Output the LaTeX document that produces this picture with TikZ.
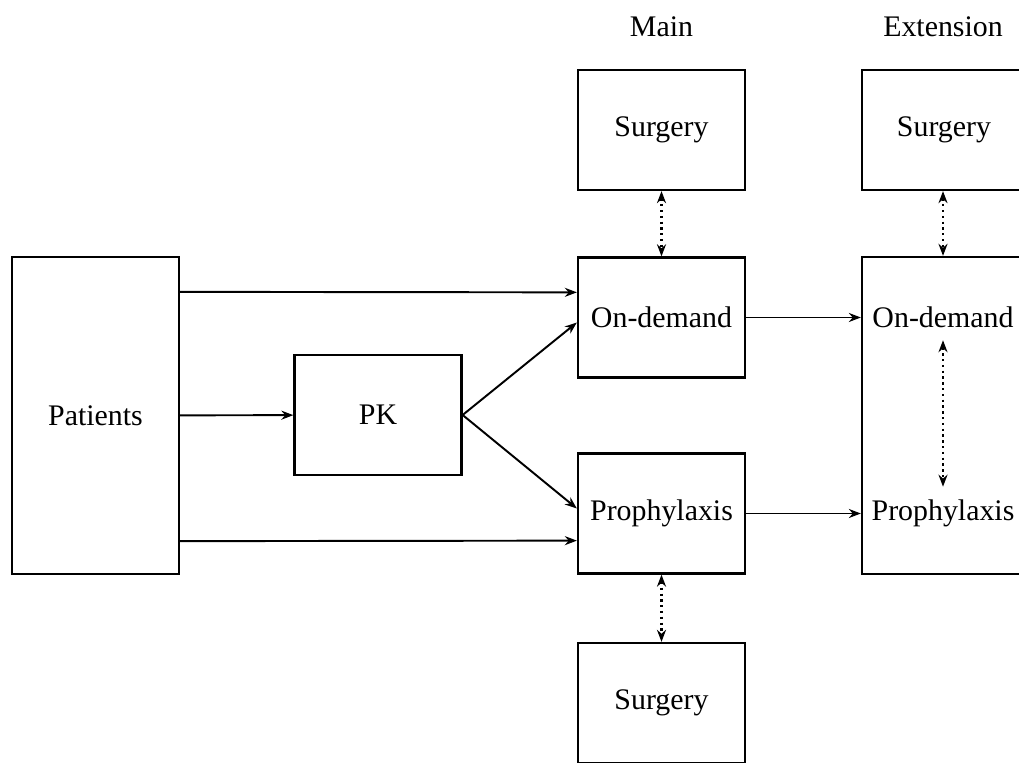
\documentclass[tikz,border=0pt]{standalone}
\usepackage{fontspec}
\setmainfont{Liberation Serif}
\usetikzlibrary{arrows.meta,positioning}

\begin{document}
\begin{tikzpicture}[every node/.style={font=\fontsize{17}{20}\selectfont},
  box/.style={draw,line width=1.3pt,minimum width=3.34cm,minimum height=2.4cm,inner sep=0pt},
  link/.style={-{Stealth[length=2.4mm,width=1.8mm]},line width=1.1pt},
  swap/.style={{Stealth[length=2.4mm,width=1.8mm]}-{Stealth[length=2.4mm,width=1.8mm]},dotted,line width=1.3pt}]
  % frame
  \useasboundingbox (0,0) rectangle (20.38,15.24);
  \clip (0,0) rectangle (20.38,15.24);
  % column heads
  \node (mainlbl) at (13.23,14.7) {Main};
  \node (extlbl) at (18.86,14.7) {Extension};
  % patients and PK
  \node[box,minimum height=6.34cm] (patients) at (1.91,6.93) {Patients};
  \node[box] (pk) at (7.56,6.94) {PK};
  % main study
  \node[box] (surgtop) at (13.23,12.64) {Surgery};
  \node[box] (ondemand) at (13.23,8.89) {On-demand};
  \node[box] (prophy) at (13.23,4.97) {Prophylaxis};
  \node[box] (surgbot) at (13.23,1.18) {Surgery};
  % extension
  \node[box,minimum width=3.28cm] (extsurg) at (18.88,12.64) {Surgery};
  \node[box,minimum width=3.28cm,minimum height=6.34cm] (extbox) at (18.88,6.93) {};
  \node (extod) at (18.86,8.9) {On-demand};
  \node (extpro) at (18.86,4.98) {Prophylaxis};
  % patient flow
  \draw[link] ([yshift=-0.72cm]patients.north east) -- ([yshift=-0.72cm]ondemand.north west);
  \draw[link] (patients) -- (pk);
  \draw[link] ([yshift=0.68cm]patients.south east) -- ([yshift=0.68cm]prophy.south west);
  \draw[link] (pk.east) -- ([yshift=-0.1cm]ondemand.west);
  \draw[link] (pk.east) -- ([yshift=0.1cm]prophy.west);
  \draw[link] (ondemand.east) -- (ondemand.east -| extbox.west);
  \draw[link] (prophy.east) -- (prophy.east -| extbox.west);
  % switches
  \draw[swap] (surgtop) -- (ondemand);
  \draw[swap] (prophy) -- (surgbot);
  \draw[swap] (extsurg.south -| extod) -- (extbox.north -| extod);
  \draw[swap,shorten <=0.13cm,shorten >=0.13cm] (extod) -- (extpro);
\end{tikzpicture}
\end{document}
